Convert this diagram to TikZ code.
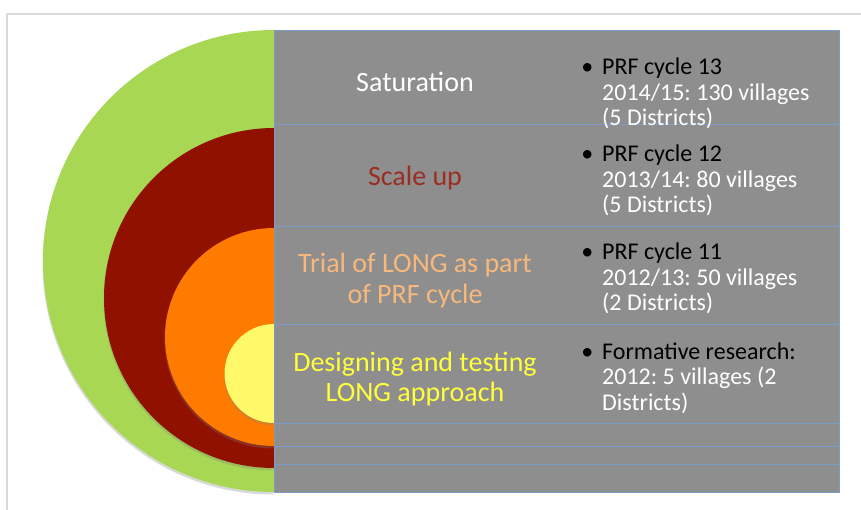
\documentclass[tikz,border=0pt]{standalone}
\usepackage{fontspec}
\setmainfont{Carlito}
\usetikzlibrary{shadows}
\frenchspacing

\definecolor{ringgreen}{HTML}{A8D853}
\definecolor{ringred}{HTML}{901100}
\definecolor{ringorange}{HTML}{FF7B00}
\definecolor{ringyellow}{HTML}{FFF96A}
\definecolor{panelgray}{HTML}{8E8E8E}
\definecolor{gridblue}{HTML}{7A9BC9}
\definecolor{framegray}{HTML}{DADADA}
\definecolor{scaletext}{HTML}{9A2E22}
\definecolor{trialtext}{HTML}{F8B87C}
\definecolor{designtext}{HTML}{FFFF3C}

\tikzset{
  ring/.style={drop shadow={shadow xshift=-0.5pt, shadow yshift=-2.5pt, opacity=0.3}},
  stagetitle/.style={anchor=base, inner sep=0pt, font=\fontsize{28}{30.5}\selectfont},
  detail/.style={anchor=base west, inner sep=0pt, font=\fontsize{24}{25.5}\selectfont},
  gridline/.style={draw=gridblue, line width=0.8pt},
}

\newcommand\bulletmark{\llap{\textbullet\hspace{9pt}}}

\begin{document}
\begin{tikzpicture}[x=1pt, y=-1pt]
  \useasboundingbox (0,0) rectangle (861,510);

  % page frame
  \draw[framegray, line width=1.5pt] (7,510) -- (7,14) -- (861,14);

  % nested half discs, outermost first
  \fill[ringgreen, ring]  (274,30)  arc[start angle=270, end angle=90, radius=231] -- cycle;
  \fill[ringred, ring]    (274,128) arc[start angle=270, end angle=90, radius=170] -- cycle;
  \fill[ringorange, ring] (274,228) arc[start angle=270, end angle=90, radius=109] -- cycle;
  \fill[ringyellow, ring] (274,324) arc[start angle=270, end angle=90, radius=49.5] -- cycle;

  % grey table panel with its row rules
  \path[fill=panelgray, gridline] (274,30) rectangle (839,492);
  \foreach \r in {124,226,324,423,446,464}
    \draw[gridline] (274,\r) -- (839,\r);

  % stage titles
  \node[stagetitle, text=white] (sat) at (415,92) {Saturation};
  \node[stagetitle, text=scaletext] (scale) at (415,186) {Scale up};
  \node[stagetitle, text=trialtext] (trial) at (415,273)
    {\begin{tabular}[t]{@{}c@{}}Trial of LONG as part\\ of PRF cycle\end{tabular}};
  \node[stagetitle, text=designtext] (design) at (415,371)
    {\begin{tabular}[t]{@{}c@{}}Designing and testing\\ LONG approach\end{tabular}};

  % stage details
  \node[detail] (c13) at (602,75)
    {\begin{tabular}[t]{@{}l@{}}\bulletmark PRF cycle 13\\
      \color{white}2014/15: 130 villages\\ \color{white}(5 Districts)\end{tabular}};
  \node[detail] (c12) at (602,162)
    {\begin{tabular}[t]{@{}l@{}}\bulletmark PRF cycle 12\\
      \color{white}2013/14: 80 villages\\ \color{white}(5 Districts)\end{tabular}};
  \node[detail] (c11) at (602,260)
    {\begin{tabular}[t]{@{}l@{}}\bulletmark PRF cycle 11\\
      \color{white}2012/13: 50 villages\\ \color{white}(2 Districts)\end{tabular}};
  \node[detail] (form) at (602,359)
    {\begin{tabular}[t]{@{}l@{}}\bulletmark Formative research:\\
      \color{white}2012: 5 villages (2\\ \color{white}Districts)\end{tabular}};
\end{tikzpicture}
\end{document}
